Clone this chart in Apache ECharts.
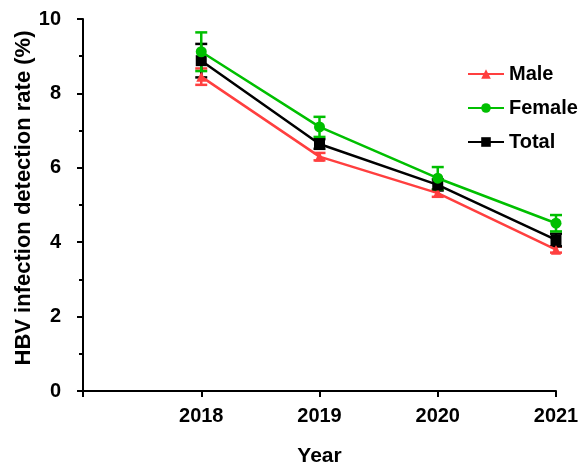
<!DOCTYPE html>
<html>
<head>
<meta charset="utf-8">
<script src="https://cdn.jsdelivr.net/npm/echarts@6/dist/echarts.min.js"></script>
<style>
  html, body { margin: 0; padding: 0; background: #fff; }
  #chart { width: 581px; height: 465px; }
</style>
</head>
<body>
<div id="chart"></div>
<script>
const years = [2018, 2019, 2020, 2021];
const maleRate = [8.45, 6.3, 5.32, 3.8];
const maleErr = [0.22, 0.1, 0.1, 0.08];
const femaleRate = [9.12, 7.1, 5.72, 4.51];
const femaleErr = [0.52, 0.27, 0.3, 0.22];
const totalRate = [8.88, 6.64, 5.54, 4.06];
const totalErr = [0.45, 0.13, 0.15, 0.17];

const red = "#ff3f3f";
const green = "#00bf00";
const black = "#000";
const font = "Liberation Sans, Arial, sans-serif";

const chart = echarts.init(document.getElementById("chart"));

const points = (vals) => years.map((y, i) => [y, vals[i]]);
const errData = (vals, errs) => years.map((y, i) => [y, vals[i] - errs[i], vals[i] + errs[i]]);

// error bars (mean ± err) drawn with a custom series
const errorBars = (name, vals, errs, color) => ({
  type: "custom",
  name: name + " error",
  data: errData(vals, errs),
  z: 1,
  renderItem: (params, api) => {
    const lo = api.coord([api.value(0), api.value(1)]);
    const hi = api.coord([api.value(0), api.value(2)]);
    const w = 6;
    const style = { stroke: color, lineWidth: 2.5 };
    return {
      type: "group",
      children: [
        { type: "line", shape: { x1: lo[0], y1: lo[1], x2: hi[0], y2: hi[1] }, style },
        { type: "line", shape: { x1: lo[0] - w, y1: lo[1], x2: lo[0] + w, y2: lo[1] }, style },
        { type: "line", shape: { x1: hi[0] - w, y1: hi[1], x2: hi[0] + w, y2: hi[1] }, style },
      ],
    };
  },
});

const lineSeries = (name, vals, color, symbol, size, z) => ({
  type: "line",
  name: name,
  data: points(vals),
  symbol: symbol,
  symbolSize: size,
  z: z,
  lineStyle: { color: color, width: 2.5 },
  itemStyle: { color: color },
});

const option = {
  animation: false,
  grid: { left: 83, right: 25, top: 19, bottom: 74, containLabel: false, outerBoundsMode: "none" },
  legend: {
    data: ["Male", "Female", "Total"],
    orient: "vertical",
    left: 462,
    top: 59,
    itemWidth: 36,
    itemHeight: 12,
    itemGap: 14,
    textStyle: { fontFamily: font, fontWeight: "bold", fontSize: 20, color: "#000" },
  },
  xAxis: {
    type: "value",
    min: 2017,
    max: 2021,
    interval: 1,
    name: "Year",
    nameLocation: "middle",
    nameGap: 55,
    nameTextStyle: { fontFamily: font, fontWeight: "bold", fontSize: 21, color: "#000" },
    splitLine: { show: false },
    axisLine: { lineStyle: { color: "#000", width: 2 } },
    axisTick: { length: 6, lineStyle: { color: "#000", width: 2 } },
    axisLabel: {
      fontFamily: font, fontWeight: "bold", fontSize: 20, color: "#000", margin: 15,
      formatter: (v) => (v === 2017 ? "" : String(v)),
    },
  },
  yAxis: {
    type: "value",
    min: 0,
    max: 10,
    interval: 2,
    name: "HBV infection detection rate (%)",
    nameLocation: "middle",
    nameGap: 48,
    nameMoveOverlap: false,
    nameTextStyle: {
      fontFamily: font, fontWeight: "bold", fontSize: 22, color: "#000",
      padding: [0, 0, 0, 14],
    },
    splitLine: { show: false },
    axisLine: { show: true, lineStyle: { color: "#000", width: 2 } },
    axisTick: { show: true, length: 6, lineStyle: { color: "#000", width: 2 } },
    minorTick: { show: true, splitNumber: 2, length: 4, lineStyle: { color: "#000", width: 2 } },
    axisLabel: { fontFamily: font, fontWeight: "bold", fontSize: 20, color: "#000", margin: 22 },
  },
  series: [
    errorBars("Male", maleRate, maleErr, red),
    errorBars("Total", totalRate, totalErr, black),
    errorBars("Female", femaleRate, femaleErr, green),
    lineSeries("Male", maleRate, red, "triangle", 10, 2),
    lineSeries("Total", totalRate, black, "rect", 11, 3),
    lineSeries("Female", femaleRate, green, "circle", 11, 4),
  ],
};

chart.setOption(option);
</script>
</body>
</html>
